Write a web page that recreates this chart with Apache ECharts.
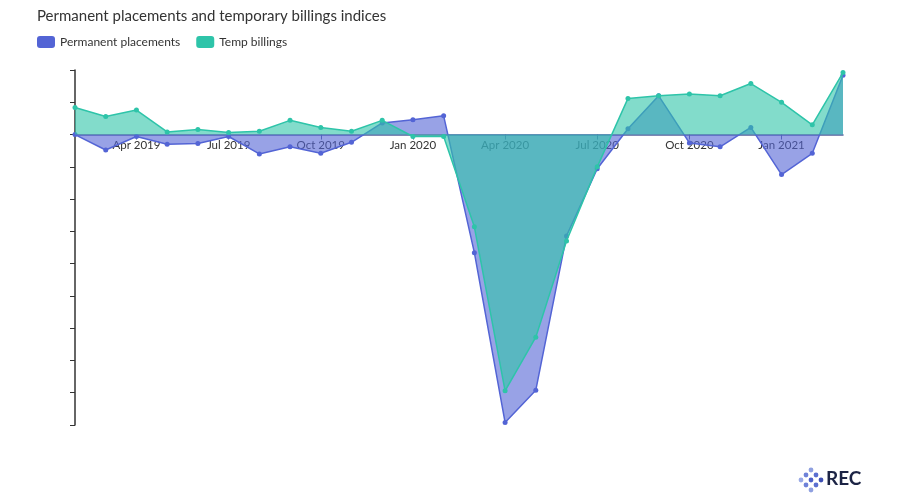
<!DOCTYPE html>
<html lang="en">
<head>
    <meta charset="UTF-8">
    <title>Permanent placements and temporary billings indices</title>
    <script src="https://cdn.jsdelivr.net/npm/echarts@6/dist/echarts.min.js"></script>
    <style>
        html, body { margin: 0; padding: 0; background: #fff; }
        #chart { width: 900px; height: 500px; }
    </style>
</head>
<body>
<div id="chart"></div>
<script>
    // months, Feb 2019 - Mar 2021
    var months = [
        'Feb 2019', 'Mar 2019', 'Apr 2019', 'May 2019', 'Jun 2019', 'Jul 2019', 'Aug 2019',
        'Sep 2019', 'Oct 2019', 'Nov 2019', 'Dec 2019', 'Jan 2020', 'Feb 2020', 'Mar 2020',
        'Apr 2020', 'May 2020', 'Jun 2020', 'Jul 2020', 'Aug 2020', 'Sep 2020', 'Oct 2020',
        'Nov 2020', 'Dec 2020', 'Jan 2021', 'Feb 2021', 'Mar 2021'
    ];
    // index minus 50 (no change)
    var permanent = [
        0.0, -2.4, -0.3, -1.5, -1.4, -0.3, -3.0, -1.9, -2.9, -1.2, 1.8, 2.3, 2.9,
        -18.3, -44.6, -39.6, -15.7, -5.3, 0.9, 6.0, -1.3, -1.9, 1.1, -6.2, -2.9, 9.2
    ];
    var tempBillings = [
        4.2, 2.8, 3.8, 0.4, 0.8, 0.3, 0.5, 2.2, 1.1, 0.5, 2.2, -0.3, -0.3,
        -14.3, -39.7, -31.4, -16.5, -5.0, 5.6, 6.0, 6.3, 6.0, 7.9, 5.0, 1.5, 9.6
    ];
    var yTicks = { min: -45, max: 10, step: 5 };

    var chart = echarts.init(document.getElementById('chart'));

    var gridTop = 70, gridBottom = 75, plotH = 500 - gridTop - gridBottom;
    // lift the x axis (line, ticks and labels) up to the zero line
    var zeroOffset = -plotH * (0 - yTicks.min) / (yTicks.max - yTicks.min);

    function quarterly(idx) { return idx % 3 === 2; }

    var option = {
        backgroundColor: '#fff',
        textStyle: { fontFamily: 'Lato' },
        title: {
            text: 'Permanent placements and temporary billings indices',
            left: 32,
            top: 4,
            textStyle: { fontFamily: 'Lato', fontSize: 15, fontWeight: 'normal', color: '#333' }
        },
        legend: {
            left: 32,
            top: 31,
            itemWidth: 18,
            itemHeight: 12,
            itemGap: 16,
            icon: 'roundRect',
            textStyle: { fontFamily: 'Lato', fontSize: 12, color: '#333' },
            data: ['Permanent placements', 'Temp billings']
        },
        grid: { left: 75, right: 57, top: gridTop, bottom: gridBottom },
        xAxis: {
            type: 'category',
            data: months,
            boundaryGap: false,
            offset: zeroOffset,
            axisLine: { onZero: false, lineStyle: { color: '#55609a', width: 1.5 } },
            axisTick: { interval: quarterly, length: 5, lineStyle: { color: '#55609a' } },
            axisLabel: {
                interval: quarterly,
                color: '#333',
                fontSize: 11.5,
                fontFamily: 'Lato',
                margin: 5
            },
            splitLine: { show: false }
        },
        yAxis: {
            type: 'value',
            min: yTicks.min,
            max: yTicks.max,
            interval: yTicks.step,
            axisLine: { show: true, lineStyle: { color: '#333', width: 1.5 } },
            axisTick: { show: true, length: 5, lineStyle: { color: '#333' } },
            axisLabel: { color: '#fff', fontSize: 11 },
            splitLine: { show: false }
        },
        series: [
            {
                name: 'Permanent placements',
                type: 'line',
                data: permanent,
                symbol: 'circle',
                symbolSize: 5,
                itemStyle: { color: '#5364d5' },
                lineStyle: { color: '#5364d5', width: 1.5 },
                areaStyle: { color: '#5364d5', opacity: 0.6 },
                z: 2
            },
            {
                name: 'Temp billings',
                type: 'line',
                data: tempBillings,
                symbol: 'circle',
                symbolSize: 5,
                itemStyle: { color: '#2ec4a9' },
                lineStyle: { color: '#2ec4a9', width: 1.5 },
                areaStyle: { color: '#2ec4a9', opacity: 0.6 },
                z: 3
            }
        ],
        graphic: [
            // REC logo
            { type: 'circle', shape: { cx: 811, cy: 470, r: 2.4 }, style: { fill: '#8fa0e0' } },
            { type: 'circle', shape: { cx: 806, cy: 475, r: 2.4 }, style: { fill: '#6f82d8' } },
            { type: 'circle', shape: { cx: 816, cy: 475, r: 2.4 }, style: { fill: '#5b6fd0' } },
            { type: 'circle', shape: { cx: 801, cy: 480, r: 2.4 }, style: { fill: '#9aaae6' } },
            { type: 'circle', shape: { cx: 811, cy: 480, r: 2.4 }, style: { fill: '#4d60c8' } },
            { type: 'circle', shape: { cx: 821, cy: 480, r: 2.4 }, style: { fill: '#3f51b5' } },
            { type: 'circle', shape: { cx: 806, cy: 485, r: 2.4 }, style: { fill: '#6f82d8' } },
            { type: 'circle', shape: { cx: 816, cy: 485, r: 2.4 }, style: { fill: '#5b6fd0' } },
            { type: 'circle', shape: { cx: 811, cy: 490, r: 2.4 }, style: { fill: '#8fa0e0' } },
            {
                type: 'text',
                left: 826,
                top: 469,
                style: { text: 'REC', fill: '#1c2445', font: 'bold 19px Lato' }
            }
        ]
    };
    chart.setOption(option);
</script>
</body>
</html>
